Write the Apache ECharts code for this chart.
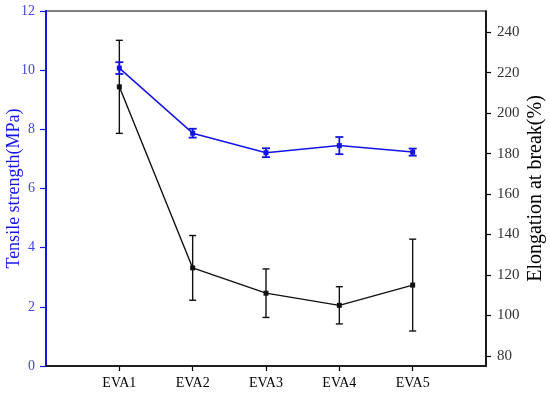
<!DOCTYPE html>
<html><head><meta charset="utf-8">
<script src="https://cdn.jsdelivr.net/npm/echarts@6/dist/echarts.min.js"></script>
<style>html,body{margin:0;padding:0;background:#fff}#c{width:550px;height:397px}</style>
</head><body><div id="c"></div>
<script>
const categories = ['EVA1','EVA2','EVA3','EVA4','EVA5'];
const tensile = [10.07, 7.87, 7.21, 7.45, 7.23];
const tensileErr = [0.2, 0.15, 0.15, 0.29, 0.12];
const elongation = [213, 123.5, 111, 105, 115];
const elongationErr = [23, 16, 12, 9.2, 22.7];
const leftTicks = [0, 2, 4, 6, 8, 10, 12];
const rightTicks = [80, 100, 120, 140, 160, 180, 200, 220, 240];

const xData = [''].concat(categories, ['']);
const BLUE = '#1414e6';
const FONT = 'Liberation Serif';

function errData(vals, errs) {
  return vals.map((v, i) => [i + 1, v - errs[i], v + errs[i]]);
}
function errRender(color, width, w) {
  return function (params, api) {
    const x = api.value(0);
    const lo = api.coord([x, api.value(1)]);
    const hi = api.coord([x, api.value(2)]);
    const st = { stroke: color, lineWidth: width, fill: null };
    return {
      type: 'group',
      children: [
        { type: 'line', shape: { x1: lo[0], y1: lo[1], x2: hi[0], y2: hi[1] }, style: st },
        { type: 'line', shape: { x1: lo[0] - w, y1: lo[1], x2: lo[0] + w, y2: lo[1] }, style: st },
        { type: 'line', shape: { x1: hi[0] - w, y1: hi[1], x2: hi[0] + w, y2: hi[1] }, style: st }
      ]
    };
  };
}

const chart = echarts.init(document.getElementById('c'), null, { renderer: 'canvas' });
chart.setOption({
  animation: false,
  backgroundColor: '#fff',
  grid: { left: 46, right: 64, top: 11, bottom: 31, show: true, borderColor: '#000', borderWidth: 1.2,
    containLabel: false, outerBoundsMode: 'none' },
  xAxis: {
    type: 'category', data: xData, boundaryGap: false,
    axisLine: { lineStyle: { color: '#000', width: 1.5 } },
    axisTick: { show: true, length: 5, lineStyle: { color: '#000', width: 1.2 },
      interval: (i) => i > 0 && i < xData.length - 1 },
    axisLabel: { color: '#000', fontFamily: FONT, fontSize: 14, margin: 10,
      interval: (i) => i > 0 && i < xData.length - 1 },
    splitLine: { show: false }
  },
  yAxis: [
    {
      type: 'value', min: 0, max: 12, interval: 2, position: 'left',
      name: 'Tensile strength(MPa)', nameLocation: 'middle', nameGap: 23, nameRotate: 90,
      nameMoveOverlap: false,
      nameTextStyle: { color: BLUE, fontFamily: FONT, fontSize: 18 },
      axisLine: { show: true, lineStyle: { color: BLUE, width: 2 } },
      axisTick: { show: true, length: 6, lineStyle: { color: BLUE, width: 1.2 } },
      axisLabel: { color: '#4444dd', fontFamily: FONT, fontSize: 14, margin: 11 },
      splitLine: { show: false }
    },
    {
      type: 'value', min: 75, max: 250.5, position: 'right',
      name: 'Elongation at break(%)', nameLocation: 'middle', nameGap: 40, nameRotate: 90,
      nameMoveOverlap: false,
      nameTextStyle: { color: '#000', fontFamily: FONT, fontSize: 20 },
      axisLine: { show: true, lineStyle: { color: '#000', width: 1.5 } },
      axisTick: { show: true, length: 5, customValues: rightTicks, lineStyle: { color: '#000', width: 1.2 } },
      axisLabel: { color: '#333', fontFamily: FONT, fontSize: 15, margin: 11, customValues: rightTicks },
      splitLine: { show: false }
    }
  ],
  series: [
    { type: 'custom', yAxisIndex: 1, data: errData(elongation, elongationErr),
      renderItem: errRender('#111', 1.4, 3.5), z: 3 },
    { type: 'line', yAxisIndex: 1, data: elongation.map((v, i) => [i + 1, v]),
      symbol: 'rect', symbolSize: 5, itemStyle: { color: '#111' },
      lineStyle: { color: '#111', width: 1.4 }, z: 4 },
    { type: 'custom', yAxisIndex: 0, data: errData(tensile, tensileErr),
      renderItem: errRender(BLUE, 1.8, 4), z: 5 },
    { type: 'line', yAxisIndex: 0, data: tensile.map((v, i) => [i + 1, v]),
      symbol: 'rect', symbolSize: 5, itemStyle: { color: BLUE },
      lineStyle: { color: BLUE, width: 1.5 }, z: 6 }
  ]
});
</script></body></html>
